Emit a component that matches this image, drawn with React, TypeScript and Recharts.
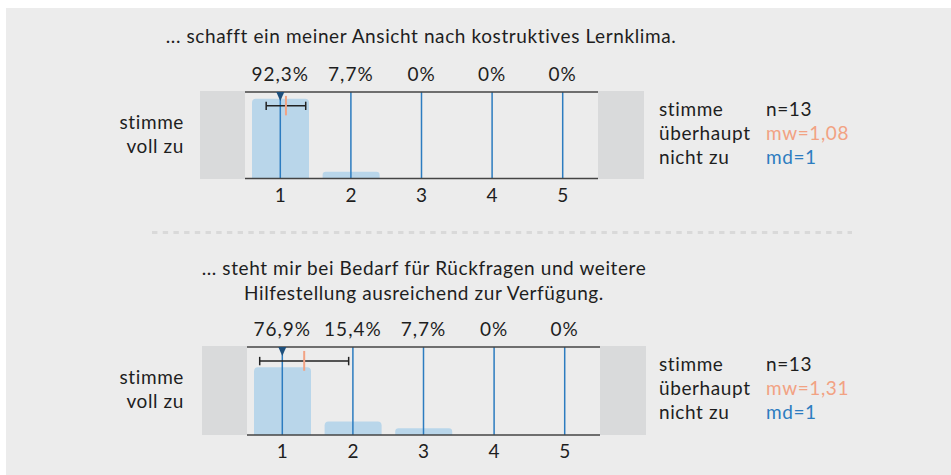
import React from "react";
import {
  Bar,
  ComposedChart,
  ReferenceDot,
  ReferenceLine,
  XAxis,
  YAxis,
} from "recharts";

// answer scale 1..5
const scores = [1, 2, 3, 4, 5];
const tickLabels = ["1", "2", "3", "4", "5"];

// share of answers in % per score
const shares1 = [92.3, 7.7, 0, 0, 0];
const shares2 = [76.9, 15.4, 7.7, 0, 0];

// n, mean (mw), standard deviation, median (md)
const counts = [13, 13];
const means = [1.08, 1.31];
const sds = [0.28, 0.63];
const medians = [1, 1];

const title1 = ["... schafft ein meiner Ansicht nach kostruktives Lernklima."];
const title2 = [
  "... steht mir bei Bedarf für Rückfragen und weitere",
  "Hilfestellung ausreichend zur Verfügung.",
];
const leftLabel = ["stimme", "voll zu"];
const rightLabel = ["stimme", "überhaupt", "nicht zu"];

const FONT = "Lato, 'Open Sans', sans-serif";
const TEXT = "#1e1e1e";
const BLUE = "#2c7cc0";
const ORANGE = "#f2a283";
const PLOT_W = 353;
const AXIS_H = 30;
const SPACING = 0.6;

const fmtShare = (p: number) =>
  p === 0 ? "0%" : `${p.toFixed(1).replace(".", ",")}%`;

type PanelProps = {
  shares: number[];
  mean: number;
  sd: number;
  median: number;
  left: number;
  top: number;
  plotH: number;
};

const Panel = ({ shares, mean, sd, median, left, top, plotH }: PanelProps) => {
  const data = scores.map((s, i) => ({ score: s, share: shares[i] }));
  const lo = mean - sd;
  const hi = mean + sd;
  const errY = 84;
  const cap = 4.8;

  return (
    <div style={{ position: "absolute", left, top: top - AXIS_H }}>
      <ComposedChart
        width={PLOT_W}
        height={plotH + AXIS_H * 2}
        data={data}
        margin={{ top: 0, right: 0, bottom: 0, left: 0 }}
      >
        <XAxis
          xAxisId="b"
          type="number"
          dataKey="score"
          domain={[0.5, 5.5]}
          ticks={scores}
          interval={0}
          allowDataOverflow
          height={AXIS_H}
          tickLine={false}
          tickMargin={4}
          tickFormatter={(v: number) => tickLabels[scores.indexOf(v)]}
          axisLine={{ stroke: "#444", strokeWidth: 1.5 }}
          tick={{ fill: TEXT, fontSize: 19, fontFamily: FONT }}
        />
        <XAxis
          xAxisId="t"
          orientation="top"
          type="number"
          dataKey="score"
          domain={[0.5, 5.5]}
          ticks={scores}
          interval={0}
          allowDataOverflow
          height={AXIS_H}
          tickLine={false}
          tickMargin={5}
          tickFormatter={(v: number) => fmtShare(shares[scores.indexOf(v)])}
          axisLine={{ stroke: "#444", strokeWidth: 1.5 }}
          tick={{ fill: TEXT, fontSize: 19, fontFamily: FONT, letterSpacing: 1 }}
        />
        <YAxis hide domain={[0, 100]} />
        <Bar
          xAxisId="b"
          dataKey="share"
          fill="#b9d6ea"
          barSize={57}
          radius={[4, 4, 0, 0]}
          isAnimationActive={false}
        />
        {scores.map((s) => (
          <ReferenceLine key={s} xAxisId="b" x={s} stroke={BLUE} strokeWidth={1.5} />
        ))}
        <ReferenceLine
          xAxisId="b"
          segment={[{ x: lo, y: errY }, { x: hi, y: errY }]}
          stroke="#222"
          strokeWidth={1.5}
        />
        <ReferenceLine
          xAxisId="b"
          segment={[{ x: lo, y: errY - cap }, { x: lo, y: errY + cap }]}
          stroke="#222"
          strokeWidth={1.5}
        />
        <ReferenceLine
          xAxisId="b"
          segment={[{ x: hi, y: errY - cap }, { x: hi, y: errY + cap }]}
          stroke="#222"
          strokeWidth={1.5}
        />
        <ReferenceLine
          xAxisId="b"
          segment={[{ x: mean, y: 73 }, { x: mean, y: 95.5 }]}
          stroke={ORANGE}
          strokeWidth={2}
        />
        <ReferenceDot
          xAxisId="b"
          x={median}
          y={100}
          ifOverflow="visible"
          shape={(p: any) => (
            <path
              d={`M${p.cx - 4},${p.cy} L${p.cx + 4},${p.cy} L${p.cx},${p.cy + 9} Z`}
              fill="#1d4f7c"
            />
          )}
        />
      </ComposedChart>
    </div>
  );
};

const SideBoxes = ({ left, top, h }: { left: number; top: number; h: number }) => (
  <>
    <div style={{ position: "absolute", left: left - 45, top, width: 45, height: h, background: "#d9dadb" }} />
    <div style={{ position: "absolute", left: left + PLOT_W, top, width: 46, height: h, background: "#d9dadb" }} />
  </>
);

const Labels = ({ dy, panel }: { dy: number; panel: number }) => (
  <g fontFamily={FONT} fontSize={19} fill={TEXT} letterSpacing={SPACING}>
    {leftLabel.map((t, i) => (
      <text key={t} x={184} y={129 + dy + i * 24} textAnchor="end">
        {t}
      </text>
    ))}
    {rightLabel.map((t, i) => (
      <text key={t} x={659} y={116 + dy + i * 24}>
        {t}
      </text>
    ))}
    <text x={766} y={116 + dy}>{`n=${counts[panel]}`}</text>
    <text x={766} y={140 + dy} fill={ORANGE}>
      {`mw=${means[panel].toFixed(2).replace(".", ",")}`}
    </text>
    <text x={766} y={164 + dy} fill={BLUE}>{`md=${medians[panel]}`}</text>
  </g>
);

export default function App() {
  return (
    <div
      style={{
        position: "absolute",
        left: 0,
        top: 0,
        width: 951,
        height: 475,
        background: "#fff",
        overflow: "hidden",
      }}
    >
      <div style={{ position: "absolute", left: 6, top: 8, width: 945, height: 467, background: "#ececec" }} />
      <SideBoxes left={245} top={91} h={88} />
      <SideBoxes left={247} top={346} h={89} />
      <Panel shares={shares1} mean={means[0]} sd={sds[0]} median={medians[0]} left={245} top={92} plotH={86.5} />
      <Panel shares={shares2} mean={means[1]} sd={sds[1]} median={medians[1]} left={247} top={346.5} plotH={88} />
      <svg
        width={951}
        height={475}
        style={{ position: "absolute", left: 0, top: 0, pointerEvents: "none" }}
      >
        <g fontFamily={FONT} fontSize={19} fill={TEXT} textAnchor="middle" letterSpacing={SPACING}>
          {title1.map((t, i) => (
            <text key={t} x={421} y={43 + i * 25}>
              {t}
            </text>
          ))}
          {title2.map((t, i) => (
            <text key={t} x={424} y={275 + i * 25}>
              {t}
            </text>
          ))}
        </g>
        <Labels dy={0} panel={0} />
        <Labels dy={254.5} panel={1} />
        <line
          x1={152}
          x2={852}
          y1={232.5}
          y2={232.5}
          stroke="#d9d9d9"
          strokeWidth={3}
          strokeDasharray="5.4 5.3"
        />
      </svg>
    </div>
  );
}
